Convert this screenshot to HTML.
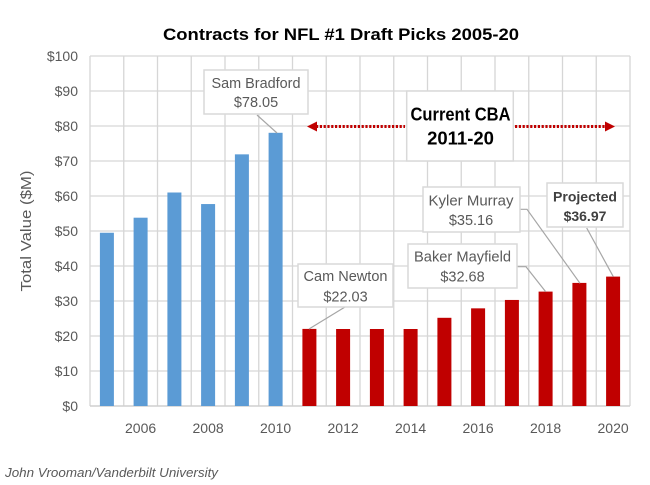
<!DOCTYPE html>
<html>
<head>
<meta charset="utf-8">
<style>
html,body{margin:0;padding:0;background:#fff;}
svg{display:block;}
text{font-family:"Liberation Sans",Arial,sans-serif;}
</style>
</head>
<body>
<svg width="650" height="485" viewBox="0 0 650 485" xmlns="http://www.w3.org/2000/svg">
<rect x="0" y="0" width="650" height="485" fill="#fff"/>
<!-- title -->
<text x="341" y="40" font-size="17" font-weight="bold" fill="#000" text-anchor="middle" textLength="356" lengthAdjust="spacingAndGlyphs">Contracts for NFL #1 Draft Picks 2005-20</text>
<!-- gridlines -->
<g stroke="#d6d6d6" stroke-width="1.3" fill="none">
<line x1="90" y1="56" x2="630" y2="56"/>
<line x1="90" y1="91" x2="630" y2="91"/>
<line x1="90" y1="126" x2="630" y2="126"/>
<line x1="90" y1="161" x2="630" y2="161"/>
<line x1="90" y1="196" x2="630" y2="196"/>
<line x1="90" y1="231" x2="630" y2="231"/>
<line x1="90" y1="266" x2="630" y2="266"/>
<line x1="90" y1="301" x2="630" y2="301"/>
<line x1="90" y1="336" x2="630" y2="336"/>
<line x1="90" y1="371" x2="630" y2="371"/>
<line x1="90" y1="56" x2="90" y2="406"/>
<line x1="123.75" y1="56" x2="123.75" y2="406"/>
<line x1="157.5" y1="56" x2="157.5" y2="406"/>
<line x1="191.25" y1="56" x2="191.25" y2="406"/>
<line x1="225" y1="56" x2="225" y2="406"/>
<line x1="258.75" y1="56" x2="258.75" y2="406"/>
<line x1="292.5" y1="56" x2="292.5" y2="406"/>
<line x1="326.25" y1="56" x2="326.25" y2="406"/>
<line x1="360" y1="56" x2="360" y2="406"/>
<line x1="393.75" y1="56" x2="393.75" y2="406"/>
<line x1="427.5" y1="56" x2="427.5" y2="406"/>
<line x1="461.25" y1="56" x2="461.25" y2="406"/>
<line x1="495" y1="56" x2="495" y2="406"/>
<line x1="528.75" y1="56" x2="528.75" y2="406"/>
<line x1="562.5" y1="56" x2="562.5" y2="406"/>
<line x1="596.25" y1="56" x2="596.25" y2="406"/>
<line x1="630" y1="56" x2="630" y2="406"/>
</g>
<line x1="90" y1="406" x2="630" y2="406" stroke="#cfcfcf" stroke-width="1.5"/>
<!-- bars blue -->
<g fill="#5B9BD5">
<rect x="99.9" y="232.75" width="14" height="173.25"/>
<rect x="133.6" y="217.7" width="14" height="188.3"/>
<rect x="167.4" y="192.5" width="14" height="213.5"/>
<rect x="201.1" y="204.05" width="14" height="201.95"/>
<rect x="234.9" y="154.35" width="14" height="251.65"/>
<rect x="268.6" y="132.8" width="14" height="273.2"/>
</g>
<g fill="#C00000">
<rect x="302.4" y="328.9" width="14" height="77.1"/>
<rect x="336.1" y="329" width="14" height="77"/>
<rect x="369.9" y="329" width="14" height="77"/>
<rect x="403.6" y="329" width="14" height="77"/>
<rect x="437.4" y="317.8" width="14" height="88.2"/>
<rect x="471.1" y="308.35" width="14" height="97.65"/>
<rect x="504.9" y="299.95" width="14" height="106.05"/>
<rect x="538.6" y="291.6" width="14" height="114.4"/>
<rect x="572.4" y="282.9" width="14" height="123.1"/>
<rect x="606.1" y="276.6" width="14" height="129.4"/>
</g>
<!-- y tick labels -->
<g font-size="14" fill="#595959" text-anchor="end">
<text x="78" y="61">$100</text>
<text x="78" y="96">$90</text>
<text x="78" y="131">$80</text>
<text x="78" y="166">$70</text>
<text x="78" y="201">$60</text>
<text x="78" y="236">$50</text>
<text x="78" y="271">$40</text>
<text x="78" y="306">$30</text>
<text x="78" y="341">$20</text>
<text x="78" y="376">$10</text>
<text x="78" y="411">$0</text>
</g>
<!-- x tick labels -->
<g font-size="14" fill="#595959" text-anchor="middle">
<text x="140.6" y="433">2006</text>
<text x="208.1" y="433">2008</text>
<text x="275.6" y="433">2010</text>
<text x="343.1" y="433">2012</text>
<text x="410.6" y="433">2014</text>
<text x="478.1" y="433">2016</text>
<text x="545.6" y="433">2018</text>
<text x="613.1" y="433">2020</text>
</g>
<!-- y axis title -->
<text transform="translate(31,231) rotate(-90)" font-size="15" fill="#595959" text-anchor="middle" textLength="121" lengthAdjust="spacingAndGlyphs">Total Value ($M)</text>
<!-- leader lines -->
<g stroke="#a6a6a6" stroke-width="1.2" fill="none">
<line x1="257" y1="115" x2="277" y2="133"/>
<line x1="345" y1="307" x2="309" y2="329"/>
<polyline points="517,266.7 526,266.7 545.7,291.7"/>
<polyline points="520,209.3 527,209.3 580,283.3"/>
<line x1="586.7" y1="228" x2="613.3" y2="276.7"/>
</g>
<!-- annotation boxes -->
<g fill="#fff" stroke="#d9d9d9" stroke-width="1.5">
<rect x="204" y="70" width="104" height="44"/>
<rect x="406.7" y="91" width="106.6" height="70"/>
<rect x="423" y="187" width="97" height="45"/>
<rect x="547" y="183" width="76" height="44"/>
<rect x="408" y="244" width="109" height="44"/>
<rect x="298" y="264" width="95" height="43"/>
</g>
<g font-size="14.5" fill="#595959" text-anchor="middle">
<text x="256" y="88" textLength="89" lengthAdjust="spacingAndGlyphs">Sam Bradford</text>
<text x="256" y="107">$78.05</text>
<text x="471" y="205.5" textLength="85" lengthAdjust="spacingAndGlyphs">Kyler Murray</text>
<text x="471" y="225">$35.16</text>
<text x="462.5" y="261.5" textLength="97" lengthAdjust="spacingAndGlyphs">Baker Mayfield</text>
<text x="462.5" y="281.5">$32.68</text>
<text x="345.5" y="281" textLength="84" lengthAdjust="spacingAndGlyphs">Cam Newton</text>
<text x="345.5" y="301.5">$22.03</text>
</g>
<g font-size="14" font-weight="bold" fill="#404040" text-anchor="middle">
<text x="585" y="201.5" textLength="64" lengthAdjust="spacingAndGlyphs">Projected</text>
<text x="585" y="221">$36.97</text>
</g>
<g font-size="18.5" font-weight="bold" fill="#000" text-anchor="middle">
<text x="460.5" y="120.5" textLength="100" lengthAdjust="spacingAndGlyphs">Current CBA</text>
<text x="460.5" y="144.3">2011-20</text>
</g>
<!-- arrows -->
<g stroke="#C00000" stroke-width="3" stroke-dasharray="2.2 1.6" fill="none">
<line x1="316" y1="126.5" x2="405" y2="126.5"/>
<line x1="515" y1="126.5" x2="606" y2="126.5"/>
</g>
<g fill="#C00000">
<polygon points="307,126.5 317,121.5 317,131.5"/>
<polygon points="615,126.5 605,121.5 605,131.5"/>
</g>
<!-- footer -->
<text x="5" y="477" font-size="13" font-style="italic" fill="#595959" textLength="213" lengthAdjust="spacingAndGlyphs">John Vrooman/Vanderbilt University</text>
</svg>
</body>
</html>
